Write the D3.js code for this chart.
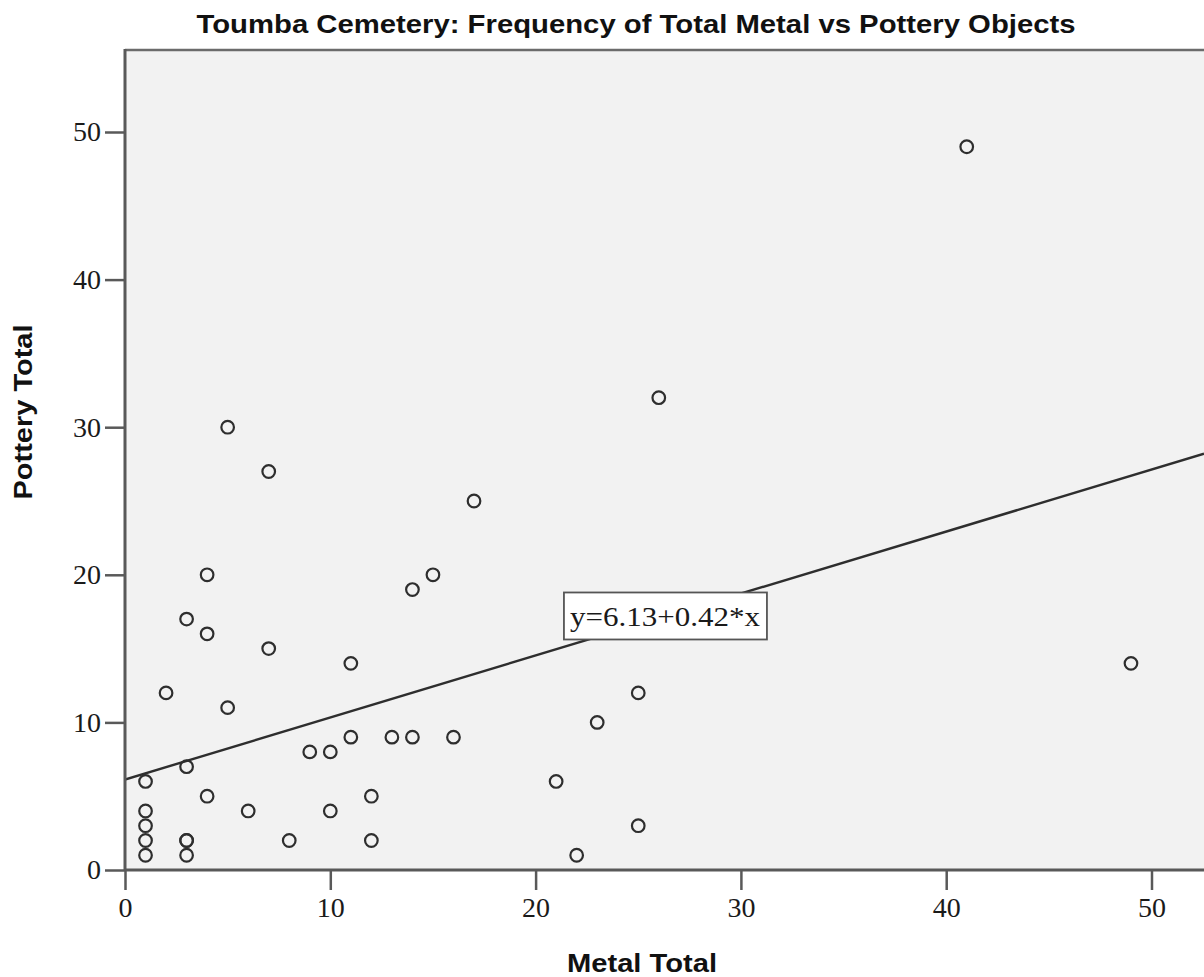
<!DOCTYPE html>
<html>
<head>
<meta charset="utf-8">
<script src="https://cdn.jsdelivr.net/npm/d3@7/dist/d3.min.js"></script>
<style>
  html, body { margin: 0; padding: 0; background: #ffffff; }
  svg { display: block; }
</style>
</head>
<body>
<svg id="chart" width="1204" height="977"></svg>
<script>
// Toumba cemetery graves: total metal objects vs total pottery objects
const metalTotal   = [41, 26, 5, 7, 17, 4, 15, 14, 3, 4, 7, 11, 49, 2, 25, 5, 23, 9, 10, 11, 13, 14, 16, 1, 3, 21, 4, 12, 6, 10, 1, 1, 1, 1, 3, 3, 3, 8, 12, 22, 25];
const potteryTotal = [49, 32, 30, 27, 25, 20, 20, 19, 17, 16, 15, 14, 14, 12, 12, 11, 10, 8, 8, 9, 9, 9, 9, 6, 7, 6, 5, 5, 4, 4, 4, 3, 2, 1, 2, 2, 1, 2, 2, 1, 3];

// Linear fit line
const fitIntercept = 6.13;
const fitSlope = 0.42;
const fitLabelX = 26.3;

const xTicks = [0, 10, 20, 30, 40, 50];
const yTicks = [0, 10, 20, 30, 40, 50];

const titleText = "Toumba Cemetery: Frequency of Total Metal vs Pottery Objects";
const xLabel = "Metal Total";
const yLabel = "Pottery Total";

const svg = d3.select("#chart");
const W = 1204, H = 977;
const plotLeft = 125, plotBottom = 870, plotTop = 49;

const x = d3.scaleLinear().domain([0, 50]).range([plotLeft, 1151.5]);
const y = d3.scaleLinear().domain([0, 50]).range([plotBottom, 132]);

const axisColor = "#595959";
const inkColor = "#2e2e2e";

// plot background
svg.append("rect")
  .attr("x", plotLeft).attr("y", plotTop)
  .attr("width", W - plotLeft + 10).attr("height", plotBottom - plotTop)
  .attr("fill", "#f2f2f2");

// frame top line
svg.append("line")
  .attr("x1", plotLeft).attr("x2", W + 5)
  .attr("y1", plotTop + 1).attr("y2", plotTop + 1)
  .attr("stroke", "#6b6b6b").attr("stroke-width", 2.5);

svg.append("defs").append("clipPath").attr("id", "plotClip")
  .append("rect").attr("x", plotLeft).attr("y", plotTop)
  .attr("width", W - plotLeft).attr("height", plotBottom - plotTop);

const plot = svg.append("g").attr("clip-path", "url(#plotClip)");

// regression line
const xMaxVisible = x.invert(W);
plot.append("line")
  .attr("x1", x(0)).attr("y1", y(fitIntercept))
  .attr("x2", x(xMaxVisible)).attr("y2", y(fitIntercept + fitSlope * xMaxVisible))
  .attr("stroke", inkColor).attr("stroke-width", 2.4);

// points
plot.selectAll("circle.pt")
  .data(metalTotal.map((m, i) => ({ m, p: potteryTotal[i] })))
  .join("circle")
  .attr("class", "pt")
  .attr("cx", d => x(d.m))
  .attr("cy", d => y(d.p))
  .attr("r", 6.3)
  .attr("fill", "none")
  .attr("stroke", inkColor)
  .attr("stroke-width", 2.2);

// x axis
const xAxis = d3.axisBottom(x).tickValues(xTicks).tickSize(20).tickSizeOuter(0).tickFormat(d3.format("d"));
const gx = svg.append("g").attr("transform", `translate(0,${plotBottom})`).call(xAxis);
gx.select(".domain").remove();
gx.selectAll(".tick line").attr("stroke", axisColor).attr("stroke-width", 2.5);
gx.selectAll(".tick text")
  .attr("y", 27).attr("dy", "0.71em")
  .attr("font-family", "'Liberation Serif', 'Times New Roman', serif")
  .attr("font-size", 28).attr("fill", "#1a1a1a");

// y axis
const yAxis = d3.axisLeft(y).tickValues(yTicks).tickSize(20).tickSizeOuter(0).tickFormat(d3.format("d"));
const gy = svg.append("g").attr("transform", `translate(${plotLeft},0)`).call(yAxis);
gy.select(".domain").remove();
gy.selectAll(".tick line").attr("stroke", axisColor).attr("stroke-width", 2.5);
gy.selectAll(".tick text")
  .attr("x", -24)
  .attr("font-family", "'Liberation Serif', 'Times New Roman', serif")
  .attr("font-size", 28).attr("fill", "#1a1a1a");

// axis lines
svg.append("line")
  .attr("x1", plotLeft).attr("x2", plotLeft)
  .attr("y1", plotTop).attr("y2", plotBottom + 1)
  .attr("stroke", axisColor).attr("stroke-width", 3);
svg.append("line")
  .attr("x1", plotLeft).attr("x2", W + 5)
  .attr("y1", plotBottom).attr("y2", plotBottom)
  .attr("stroke", axisColor).attr("stroke-width", 3);

// fit equation label
const labelY = fitIntercept + fitSlope * fitLabelX;
const lg = svg.append("g").attr("transform", `translate(${x(fitLabelX)},${y(labelY)})`);
lg.append("rect")
  .attr("x", -101).attr("y", -24)
  .attr("width", 203).attr("height", 47)
  .attr("fill", "#ffffff").attr("stroke", "#555").attr("stroke-width", 1.8);
lg.append("text")
  .attr("x", 0).attr("y", 10)
  .attr("text-anchor", "middle")
  .attr("font-family", "'Liberation Serif', 'Times New Roman', serif")
  .attr("font-size", 27)
  .attr("textLength", 190).attr("lengthAdjust", "spacingAndGlyphs")
  .attr("fill", "#1a1a1a")
  .text(`y=${fitIntercept.toFixed(2)}+${fitSlope.toFixed(2)}*x`);

// title
svg.append("text")
  .attr("x", 636).attr("y", 33)
  .attr("text-anchor", "middle")
  .attr("font-family", "'Liberation Sans', Arial, sans-serif")
  .attr("font-weight", "bold").attr("font-size", 25)
  .attr("textLength", 879).attr("lengthAdjust", "spacingAndGlyphs")
  .attr("fill", "#111")
  .text(titleText);

// x axis title
svg.append("text")
  .attr("x", 642).attr("y", 972)
  .attr("text-anchor", "middle")
  .attr("font-family", "'Liberation Sans', Arial, sans-serif")
  .attr("font-weight", "bold").attr("font-size", 25)
  .attr("textLength", 150).attr("lengthAdjust", "spacingAndGlyphs")
  .attr("fill", "#111")
  .text(xLabel);

// y axis title
svg.append("text")
  .attr("transform", "translate(32,412) rotate(-90)")
  .attr("text-anchor", "middle")
  .attr("font-family", "'Liberation Sans', Arial, sans-serif")
  .attr("font-weight", "bold").attr("font-size", 25)
  .attr("textLength", 175).attr("lengthAdjust", "spacingAndGlyphs")
  .attr("fill", "#111")
  .text(yLabel);
</script>
</body>
</html>
